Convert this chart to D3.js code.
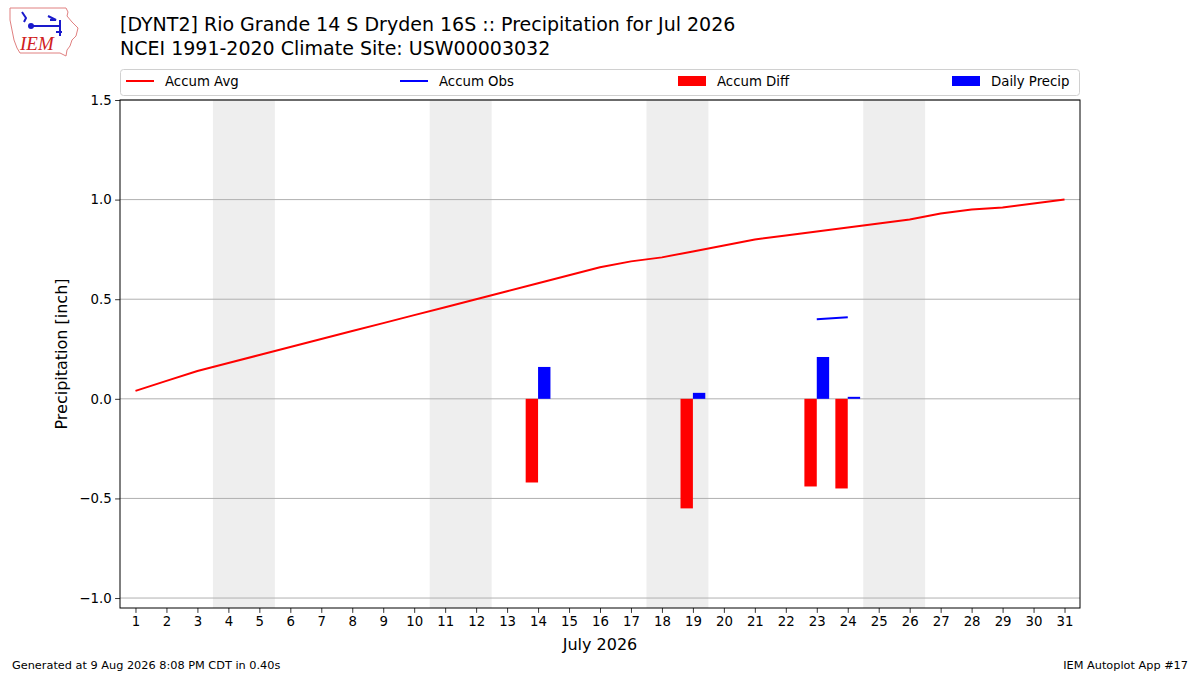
<!DOCTYPE html>
<html>
<head>
<meta charset="utf-8">
<script src="https://cdn.jsdelivr.net/npm/d3@7"></script>
<style>
  body { margin: 0; background: #fff; }
  svg { font-family: "DejaVu Sans", sans-serif; }
</style>
</head>
<body>
<svg id="chart" width="1200" height="675"></svg>
<script>
// days of the month
const days = d3.range(1, 32);
// climatology accumulated precip (inch)
const accumAvg = [0.04, 0.09, 0.14, 0.18, 0.22, 0.26, 0.30, 0.34, 0.38, 0.42,
	0.46, 0.50, 0.54, 0.58, 0.62, 0.66, 0.69, 0.71, 0.74, 0.77,
	0.80, 0.82, 0.84, 0.86, 0.88, 0.90, 0.93, 0.95, 0.96, 0.98, 1.00];
// observed accumulation, only drawn where present
const obsDays = [23, 24];
const accumObs = [0.40, 0.41];
// daily precip and accumulated departure
const precipDays = [14, 19, 23, 24];
const dailyPrecip = [0.16, 0.03, 0.21, 0.01];
const accumDiff = [-0.42, -0.55, -0.44, -0.45];
const weekends = [[3.5, 5.5], [10.5, 12.5], [17.5, 19.5], [24.5, 26.5]];
const yTicks = [-1.0, -0.5, 0.0, 0.5, 1.0, 1.5];
const legendItems = [
	{label: "Accum Avg", color: "red", kind: "line"},
	{label: "Accum Obs", color: "blue", kind: "line"},
	{label: "Accum Diff", color: "red", kind: "box"},
	{label: "Daily Precip", color: "blue", kind: "box"}
];

const svg = d3.select("#chart");
const margin = {left: 120, right: 1080, top: 100, bottom: 608};

const x = d3.scaleLinear().domain([0.5, 31.5]).range([margin.left, margin.right]);
const y = d3.scaleLinear().domain([-1.05, 1.5]).range([margin.bottom, margin.top]);

// weekend shading
svg.append("g").selectAll("rect")
	.data(weekends)
	.enter()
	.append("rect")
	.attr("x", d => x(d[0]))
	.attr("width", d => x(d[1]) - x(d[0]))
	.attr("y", margin.top)
	.attr("height", margin.bottom - margin.top)
	.attr("fill", "#eeeeee");

// grid lines
svg.append("g").selectAll("line")
	.data(yTicks)
	.enter()
	.append("line")
	.attr("x1", margin.left)
	.attr("x2", margin.right)
	.attr("y1", d => y(d))
	.attr("y2", d => y(d))
	.attr("stroke", "#b0b0b0")
	.attr("stroke-width", 1);

// bars
const barW = x(1.4) - x(1);
svg.append("g").selectAll("rect")
	.data(precipDays)
	.enter()
	.append("rect")
	.attr("x", d => x(d) - barW)
	.attr("width", barW)
	.attr("y", (d, i) => y(Math.max(0, accumDiff[i])))
	.attr("height", (d, i) => Math.abs(y(accumDiff[i]) - y(0)))
	.attr("fill", "red");

svg.append("g").selectAll("rect")
	.data(precipDays)
	.enter()
	.append("rect")
	.attr("x", d => x(d))
	.attr("width", barW)
	.attr("y", (d, i) => y(dailyPrecip[i]))
	.attr("height", (d, i) => y(0) - y(dailyPrecip[i]))
	.attr("fill", "blue");

// lines
const line = d3.line()
	.x(d => x(d[0]))
	.y(d => y(d[1]));

svg.append("path")
	.attr("d", line(days.map((d, i) => [d, accumAvg[i]])))
	.attr("fill", "none")
	.attr("stroke", "red")
	.attr("stroke-width", 2);

svg.append("path")
	.attr("d", line(obsDays.map((d, i) => [d, accumObs[i]])))
	.attr("fill", "none")
	.attr("stroke", "blue")
	.attr("stroke-width", 2);

// axes
const xAxis = d3.axisBottom(x).tickValues(days).tickSize(4.9).tickPadding(3.5);
const gx = svg.append("g")
	.attr("transform", `translate(0,${margin.bottom})`)
	.call(xAxis);
gx.select(".domain").remove();

const yAxis = d3.axisLeft(y)
	.tickValues(yTicks)
	.tickFormat(d => d3.format(".1f")(d).replace("-", "\u2212"))
	.tickSize(4.9).tickPadding(3.5);
const gy = svg.append("g")
	.attr("transform", `translate(${margin.left},0)`)
	.call(yAxis);
gy.select(".domain").remove();

svg.selectAll(".tick text")
	.attr("font-family", "DejaVu Sans")
	.attr("font-size", 13.3)
	.attr("fill", "#000");
svg.selectAll(".tick line").attr("stroke", "#000").attr("stroke-width", 0.8);

// frame
svg.append("rect")
	.attr("x", margin.left)
	.attr("y", margin.top)
	.attr("width", margin.right - margin.left)
	.attr("height", margin.bottom - margin.top)
	.attr("fill", "none")
	.attr("stroke", "#000")
	.attr("stroke-width", 1);

// axis labels
svg.append("text")
	.attr("x", (margin.left + margin.right) / 2)
	.attr("y", 650)
	.attr("text-anchor", "middle")
	.attr("font-size", 16)
	.text("July 2026");

svg.append("text")
	.attr("transform", `translate(67,${(margin.top + margin.bottom) / 2}) rotate(-90)`)
	.attr("text-anchor", "middle")
	.attr("font-size", 16)
	.text("Precipitation [inch]");

// legend
const legend = svg.append("g");
legend.append("rect")
	.attr("x", 120.5).attr("y", 69.5)
	.attr("width", 959).attr("height", 26)
	.attr("rx", 3)
	.attr("fill", "#fff")
	.attr("stroke", "#d0d0d0");

const legendX = [126, 400, 678, 952];
const items = legend.selectAll("g.item")
	.data(legendItems)
	.enter()
	.append("g")
	.attr("transform", (d, i) => `translate(${legendX[i]},81)`);

items.filter(d => d.kind === "line")
	.append("line")
	.attr("x1", 0).attr("x2", 28)
	.attr("stroke", d => d.color)
	.attr("stroke-width", 2);
items.filter(d => d.kind === "box")
	.append("rect")
	.attr("x", 0).attr("y", -5)
	.attr("width", 28).attr("height", 10)
	.attr("fill", d => d.color);
items.append("text")
	.attr("x", 39)
	.attr("y", 5)
	.attr("font-size", 13.3)
	.text(d => d.label);

// titles
svg.append("text")
	.attr("x", 120).attr("y", 31)
	.attr("font-size", 19)
	.text("[DYNT2] Rio Grande 14 S Dryden 16S :: Precipitation for Jul 2026");
svg.append("text")
	.attr("x", 120).attr("y", 55)
	.attr("font-size", 19)
	.text("NCEI 1991-2020 Climate Site: USW00003032");

// footer
svg.append("text")
	.attr("x", 12).attr("y", 669)
	.attr("font-size", 11.3)
	.text("Generated at 9 Aug 2026 8:08 PM CDT in 0.40s");
svg.append("text")
	.attr("x", 1188).attr("y", 669)
	.attr("text-anchor", "end")
	.attr("font-size", 11.3)
	.text("IEM Autoplot App #17");

// IEM logo, rough state outline
const logo = svg.append("g");
logo.append("path")
	.attr("d", "M10,8 L66,8 L68,12 L67,16 L72,22 L78,28 L76,36 L72,40 L70,46 L67,50 L66,56 L60,53 L20,53 L17,48 L14,40 L12,30 L10,20 Z")
	.attr("fill", "#fff")
	.attr("stroke", "#e08080")
	.attr("stroke-width", 1);
logo.append("path")
	.attr("d", "M31,26 L60,26 M22,12 L26,18 L24,22 M48,16 L56,20 L50,20 M60,20 L60,36 M56,32 L62,32")
	.attr("fill", "none")
	.attr("stroke", "#1a1acc")
	.attr("stroke-width", 2);
logo.append("circle").attr("cx", 31).attr("cy", 26).attr("r", 3).attr("fill", "#1a1acc");
logo.append("text")
	.attr("x", 20).attr("y", 50)
	.attr("font-family", "Liberation Serif, serif")
	.attr("font-style", "italic")
	.attr("font-size", 19)
	.attr("fill", "#d02020")
	.text("IEM");
</script>
</body>
</html>
